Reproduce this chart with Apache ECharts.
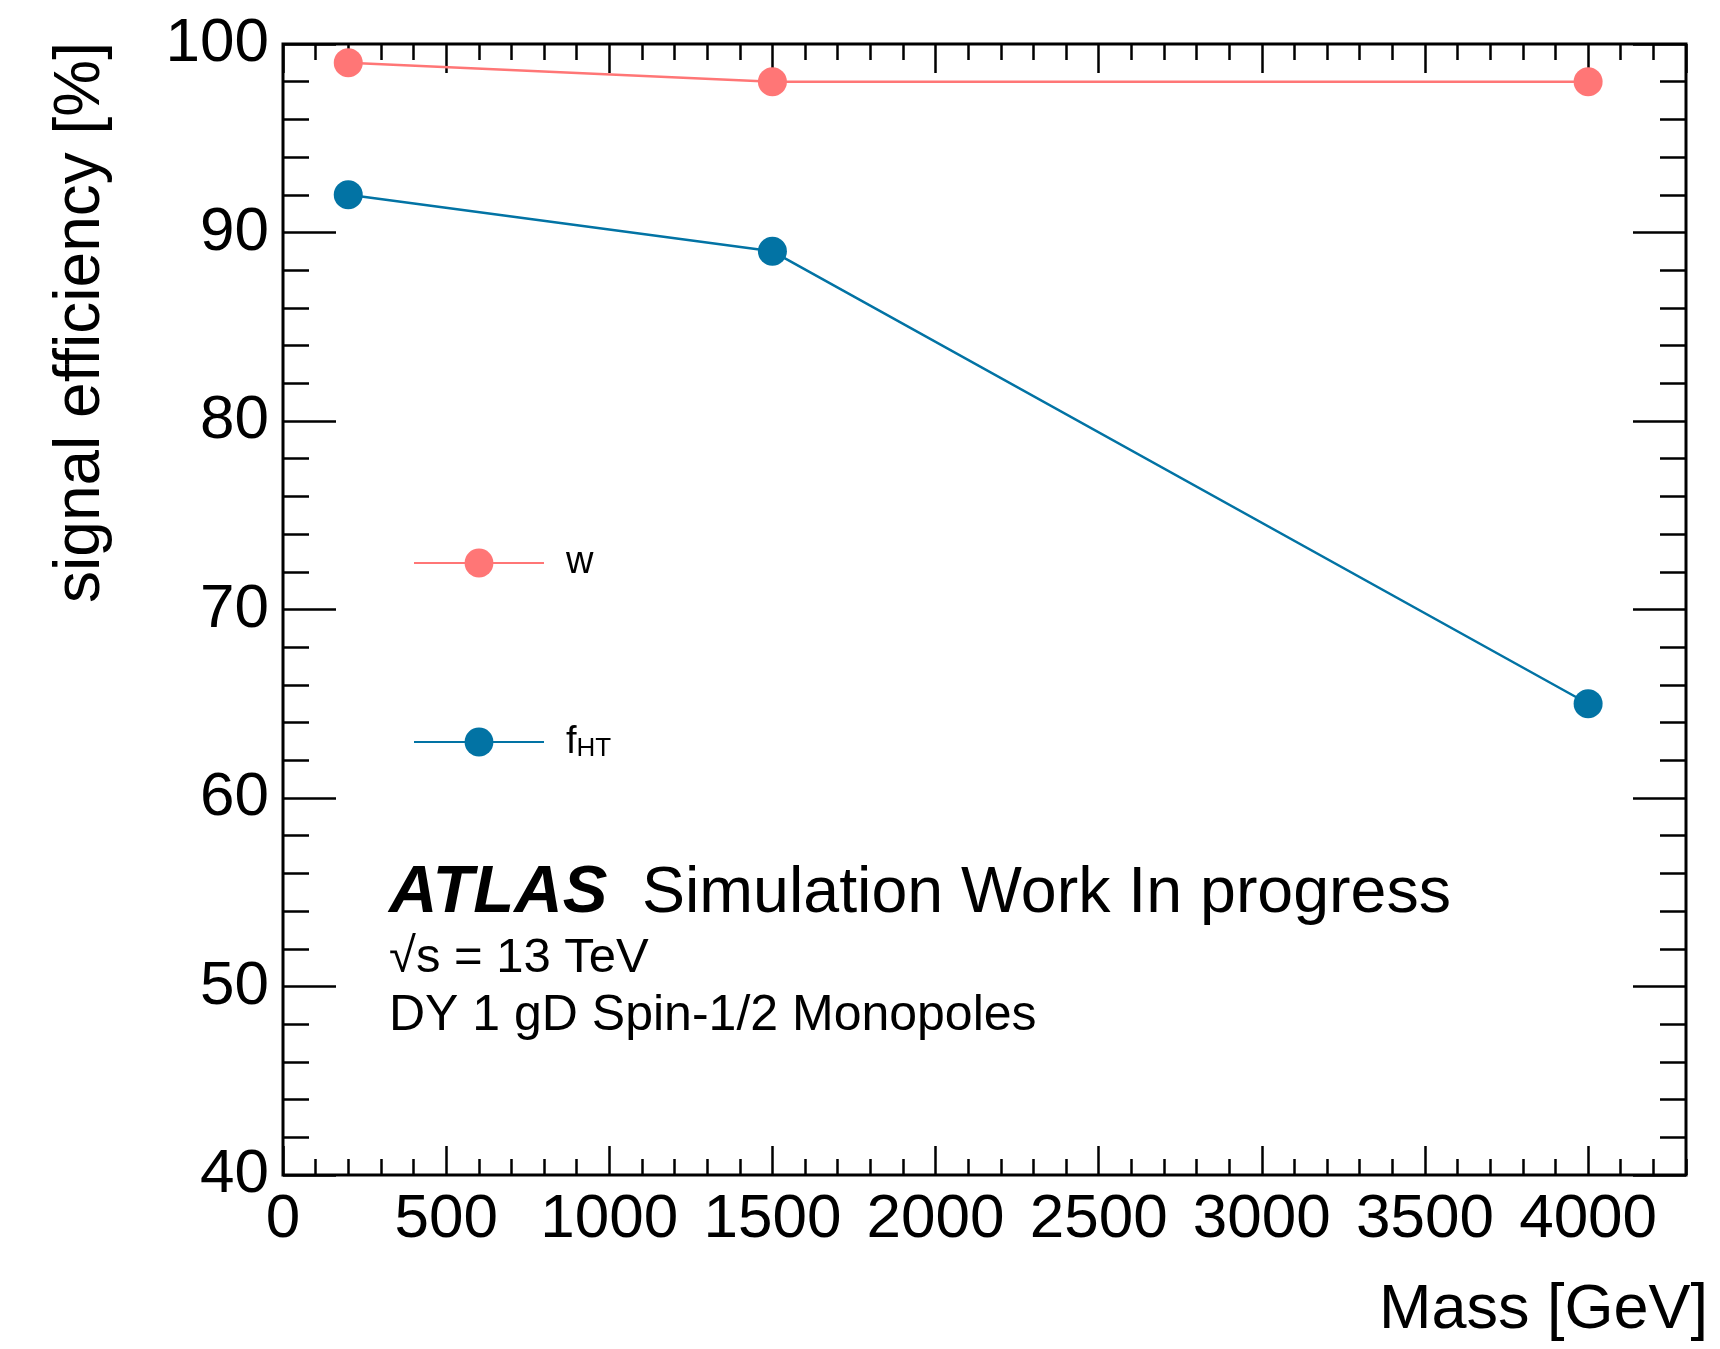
<!DOCTYPE html>
<html>
<head>
<meta charset="utf-8">
<title>Signal efficiency vs mass</title>
<script src="https://cdn.jsdelivr.net/npm/echarts@6/dist/echarts.min.js"></script>
<style>
  html, body { margin: 0; padding: 0; background: #ffffff; }
  #chart { width: 1720px; height: 1349px; }
</style>
</head>
<body>
<div id="chart"></div>
<script>
// Monopole masses [GeV] and selection efficiencies [%]
const massPoints = [200, 1500, 4000];
const effW = [99, 98, 98];
const effFHT = [92, 89, 65];

const seriesNames = ['w', 'f_HT'];
const colorW = '#ff7676';
const colorFHT = '#0273a4';

const FONT = "'Liberation Sans', Arial, Helvetica, sans-serif";

const toPairs = (xs, ys) => xs.map((x, i) => [x, ys[i]]);

const PLOT = { left: 283, right: 34, top: 44, bottom: 174 };
const PLOT_WIDTH = 1720 - PLOT.left - PLOT.right;
const X_MIN = 0, X_MAX = 4300;
const Y_MIN = 40, Y_MAX = 100;

const tickLine = { color: '#000', width: 2.5 };

// Four grids share the same rectangle:
//   0: frame, series, major x ticks (bottom/top) + left major y ticks with labels
//   1: minor x ticks (bottom/top) + left minor y ticks
//   2: right-hand major y ticks
//   3: right-hand minor y ticks
function gridAt(i) {
  return Object.assign({
    show: i === 0, borderColor: '#000', borderWidth: 3, backgroundColor: 'transparent'
  }, PLOT);
}

function axisX(gridIndex, position, interval, tickLen, withLabels, show) {
  return {
    type: 'value', gridIndex: gridIndex, position: position, show: show !== false,
    min: X_MIN, max: X_MAX, interval: interval,
    axisLine: { show: false },
    axisTick: { show: tickLen > 0, inside: true, length: tickLen, lineStyle: tickLine },
    axisLabel: {
      show: withLabels, showMaxLabel: false, margin: 14,
      color: '#000', fontSize: 62, fontFamily: FONT,
      formatter: (v) => String(v)
    },
    splitLine: { show: false }
  };
}

function axisY(gridIndex, interval, tickLen, withLabels, onRight) {
  return {
    type: 'value', gridIndex: gridIndex, position: 'left',
    // the right-hand copies sit on the right frame edge, ticks pointing into the plot
    offset: onRight ? -PLOT_WIDTH : 0,
    min: Y_MIN, max: Y_MAX, interval: interval,
    axisLine: { show: false },
    axisTick: { show: true, inside: !onRight, length: tickLen, lineStyle: tickLine },
    axisLabel: {
      show: withLabels, margin: 14,
      color: '#000', fontSize: 62, fontFamily: FONT,
      formatter: (v) => String(v)
    },
    splitLine: { show: false }
  };
}

const option = {
  backgroundColor: '#ffffff',
  animation: false,
  grid: [gridAt(0), gridAt(1), gridAt(2), gridAt(3)],
  xAxis: [
    axisX(0, 'bottom', 500, 29, true),
    axisX(0, 'top', 500, 29, false),
    axisX(1, 'bottom', 100, 16, false),
    axisX(1, 'top', 100, 16, false),
    axisX(2, 'bottom', 500, 0, false, false),
    axisX(3, 'bottom', 500, 0, false, false)
  ],
  yAxis: [
    axisY(0, 10, 53, true, false),
    axisY(1, 2, 26, false, false),
    axisY(2, 10, 53, false, true),
    axisY(3, 2, 26, false, true)
  ],
  legend: [
    {
      data: [seriesNames[0]],
      left: 413, top: 544, padding: 0,
      itemWidth: 130, itemHeight: 36,
      textStyle: { color: '#000', fontSize: 38, fontFamily: FONT, padding: [0, 0, 0, 17] }
    },
    {
      data: [seriesNames[1]],
      left: 413, top: 717, padding: 0,
      itemWidth: 130, itemHeight: 36,
      // f with subscript HT
      formatter: () => '{m|f}{s|HT}',
      textStyle: {
        color: '#000', fontFamily: FONT, height: 36, padding: [0, 0, 0, 17],
        rich: {
          m: { fontSize: 38, lineHeight: 38, verticalAlign: 'top', fontFamily: FONT, color: '#000' },
          s: { fontSize: 26, lineHeight: 26, verticalAlign: 'bottom', padding: [19, 0, 0, 0], fontFamily: FONT, color: '#000' }
        }
      }
    }
  ],
  series: [
    {
      name: seriesNames[0], type: 'line',
      xAxisIndex: 0, yAxisIndex: 0,
      data: toPairs(massPoints, effW),
      symbol: 'circle', symbolSize: 29,
      lineStyle: { color: colorW, width: 2.5 },
      itemStyle: { color: colorW }
    },
    {
      name: seriesNames[1], type: 'line',
      xAxisIndex: 0, yAxisIndex: 0,
      data: toPairs(massPoints, effFHT),
      symbol: 'circle', symbolSize: 29,
      lineStyle: { color: colorFHT, width: 2.5 },
      itemStyle: { color: colorFHT }
    }
  ],
  graphic: [
    {
      type: 'text', x: 81, y: 42, rotation: Math.PI / 2,
      style: {
        text: 'signal efficiency [%]', fill: '#000',
        font: '64px ' + FONT, align: 'right', verticalAlign: 'middle'
      }
    },
    {
      type: 'text', x: 1708, y: 1311,
      style: {
        text: 'Mass [GeV]', fill: '#000',
        font: '63px ' + FONT, align: 'right', verticalAlign: 'middle'
      }
    },
    {
      type: 'text', x: 389, y: 894,
      style: {
        text: 'ATLAS', fill: '#000',
        font: 'italic bold 67px ' + FONT, align: 'left', verticalAlign: 'middle'
      }
    },
    {
      type: 'text', x: 642, y: 894,
      style: {
        text: 'Simulation Work In progress', fill: '#000',
        font: '64.5px ' + FONT, align: 'left', verticalAlign: 'middle'
      }
    },
    {
      type: 'text', x: 389, y: 958,
      style: {
        text: '\u221As = 13 TeV', fill: '#000',
        font: '49px ' + FONT, align: 'left', verticalAlign: 'middle'
      }
    },
    {
      type: 'text', x: 389, y: 1016,
      style: {
        text: 'DY 1 gD Spin-1/2 Monopoles', fill: '#000',
        font: '50px ' + FONT, align: 'left', verticalAlign: 'middle'
      }
    }
  ]
};

const chart = echarts.init(document.getElementById('chart'), null, { renderer: 'canvas' });
chart.setOption(option);
</script>
</body>
</html>
